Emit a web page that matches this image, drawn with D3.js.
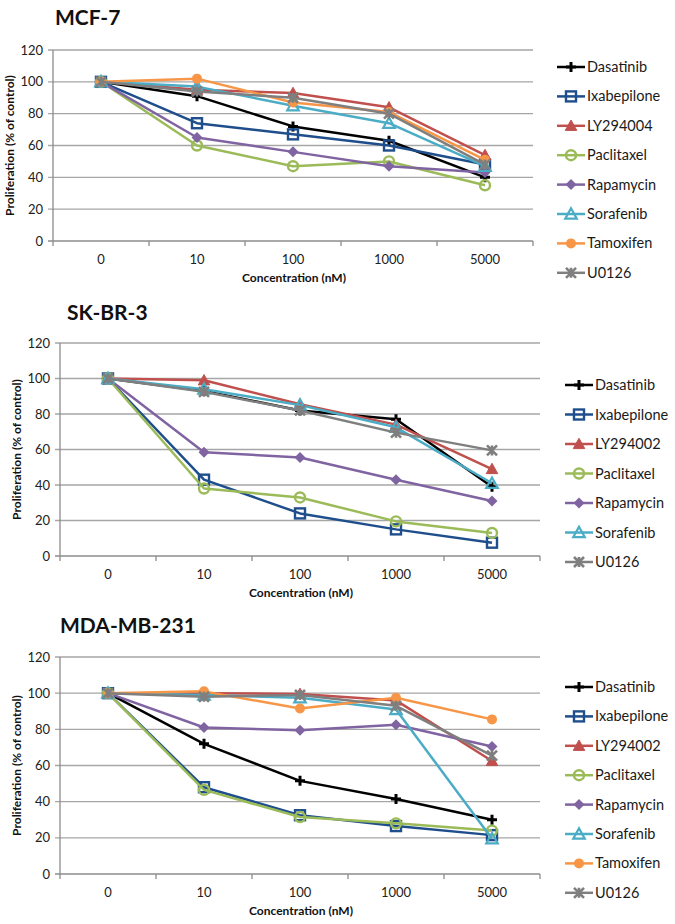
<!DOCTYPE html>
<html><head><meta charset="utf-8">
<script src="https://cdn.jsdelivr.net/npm/d3@7"></script>
<style>body{margin:0;background:#fff}svg{display:block}text{font-family:Lato,"Open Sans",sans-serif}</style>
</head><body>
<svg id="c" width="675" height="924"></svg>
<script>
const categories = ["0","10","100","1000","5000"];
const yTicks = [0,20,40,60,80,100,120];
const mcf7Drugs = ["Dasatinib","Ixabepilone","LY294004","Paclitaxel","Rapamycin","Sorafenib","Tamoxifen","U0126"];
const mcf7Values = [
  [100,91,72,63,40],
  [100,74,67,60,48],
  [100,95,93,84,54],
  [100,60,47,50,35],
  [100,65,56,47,43],
  [100,97,85,74,47],
  [100,102,87,81,51],
  [100,94,90,80,48]
];
const skbr3Drugs = ["Dasatinib","Ixabepilone","LY294002","Paclitaxel","Rapamycin","Sorafenib","U0126"];
const skbr3Values = [
  [100,93,82,77,39],
  [100,43,24,15,7.5],
  [100,99,85.5,74,49],
  [100,38,33,19.5,13],
  [100,58.5,55.5,43,31],
  [100,94,85,72.5,41],
  [100,92.5,82,69.5,59.5]
];
const mdaDrugs = ["Dasatinib","Ixabepilone","LY294002","Paclitaxel","Rapamycin","Sorafenib","Tamoxifen","U0126"];
const mdaValues = [
  [100,72,51.5,41.5,30],
  [100,48,32.5,26.5,21.5],
  [100,100,99.6,96,62.5],
  [100,46.5,31.5,28,24],
  [100,81,79.5,82.5,70.5],
  [100,99,97.5,91,19.5],
  [100,101,91.5,97.5,85.5],
  [100,98,99,93,65.5]
];

const styleByDrug = {
  "Dasatinib":{color:"#000000",marker:"plus"},
  "Ixabepilone":{color:"#1F4E8C",marker:"square"},
  "LY294004":{color:"#C0504D",marker:"triangleFilled"},
  "LY294002":{color:"#C0504D",marker:"triangleFilled"},
  "Paclitaxel":{color:"#9BBB59",marker:"circleOpen"},
  "Rapamycin":{color:"#8064A2",marker:"diamond"},
  "Sorafenib":{color:"#4BACC6",marker:"triangleOpen"},
  "Tamoxifen":{color:"#F79646",marker:"circleFilled"},
  "U0126":{color:"#7F7F7F",marker:"cross"}
};

const panels = [
  {title:"MCF-7", tx:55, ty:25, x0:53, x1:533, yTop:50, yBot:241, ytx:10, legX:557, legY:67, legStep:29.4, drugs:mcf7Drugs, values:mcf7Values},
  {title:"SK-BR-3", tx:67, ty:320, x0:60, x1:540, yTop:343, yBot:556, ytx:17, legX:565, legY:385, legStep:29.5, drugs:skbr3Drugs, values:skbr3Values},
  {title:"MDA-MB-231", tx:60, ty:633, x0:60, x1:540, yTop:657, yBot:874, ytx:17, legX:565, legY:687, legStep:29.4, drugs:mdaDrugs, values:mdaValues}
];

const svg = d3.select("#c");

function drawMarker(g, type, color, x, y) {
  const s = 5;
  if (type === "plus") {
    g.append("path").attr("d",`M${x-s},${y}H${x+s}M${x},${y-s}V${y+s}`).attr("stroke",color).attr("stroke-width",3).attr("fill","none");
  } else if (type === "square") {
    g.append("rect").attr("x",x-s).attr("y",y-s).attr("width",2*s).attr("height",2*s).attr("fill","none").attr("stroke",color).attr("stroke-width",2.4);
  } else if (type === "triangleFilled" || type === "triangleOpen") {
    const h = s*1.15;
    g.append("path").attr("d",`M${x},${y-h}L${x+h},${y+h*0.8}L${x-h},${y+h*0.8}Z`)
      .attr("fill", type==="triangleFilled"?color:"none").attr("stroke",color).attr("stroke-width",type==="triangleFilled"?1:2.2);
  } else if (type === "circleOpen") {
    g.append("circle").attr("cx",x).attr("cy",y).attr("r",s).attr("fill","none").attr("stroke",color).attr("stroke-width",2.4);
  } else if (type === "circleFilled") {
    g.append("circle").attr("cx",x).attr("cy",y).attr("r",s).attr("fill",color);
  } else if (type === "diamond") {
    g.append("path").attr("d",`M${x},${y-s*1.1}L${x+s*1.1},${y}L${x},${y+s*1.1}L${x-s*1.1},${y}Z`).attr("fill",color);
  } else if (type === "cross") {
    g.append("path").attr("d",`M${x-s},${y-s}L${x+s},${y+s}M${x-s},${y+s}L${x+s},${y-s}M${x},${y-s}V${y+s}`).attr("stroke",color).attr("stroke-width",2.6).attr("fill","none");
  }
}

panels.forEach(p => {
  const g = svg.append("g");
  const x = d3.scaleBand().domain(categories).range([p.x0, p.x1]);
  const y = d3.scaleLinear().domain([0,120]).range([p.yBot, p.yTop]);

  g.append("text").attr("x",p.tx).attr("y",p.ty).attr("font-size",21).attr("font-weight","bold").attr("fill","#111").text(p.title);

  g.append("g").selectAll("line").data(yTicks).join("line")
    .attr("x1",p.x0-5).attr("x2",p.x1).attr("y1",d=>y(d)).attr("y2",d=>y(d))
    .attr("stroke",d=>d===0?"#8c8c8c":"#a6a6a6").attr("stroke-width",1.3);
  g.append("line").attr("x1",p.x0).attr("x2",p.x0).attr("y1",p.yTop).attr("y2",p.yBot).attr("stroke","#8c8c8c").attr("stroke-width",1.3);
  g.append("g").selectAll("text").data(yTicks).join("text")
    .attr("x",p.x0-10).attr("y",d=>y(d)+4.5).attr("text-anchor","end").attr("font-size",13).attr("fill","#222").text(d=>d);
  const bounds = categories.map(c=>x(c)).concat([p.x1]);
  g.append("g").selectAll("line").data(bounds).join("line")
    .attr("x1",d=>d).attr("x2",d=>d).attr("y1",p.yBot).attr("y2",p.yBot+5).attr("stroke","#8c8c8c").attr("stroke-width",1.3);
  g.append("g").selectAll("text").data(categories).join("text")
    .attr("x",d=>x(d)+x.bandwidth()/2).attr("y",p.yBot+23).attr("text-anchor","middle").attr("font-size",13).attr("fill","#222").text(d=>d);
  g.append("text").attr("x",(p.x0+p.x1)/2 + 1).attr("y",p.yBot+41).attr("text-anchor","middle").attr("font-size",12).attr("font-weight","bold").attr("fill","#111").text("Concentration (nM)");
  g.append("text").attr("transform",`translate(${p.ytx+4},${(p.yTop+p.yBot)/2}) rotate(-90)`).attr("text-anchor","middle").attr("font-size",12).attr("font-weight","bold").attr("fill","#111").text("Proliferation (% of control)");

  const line = d3.line().x((d,i)=>x(categories[i])+x.bandwidth()/2).y(d=>y(d));
  p.drugs.forEach((drug, k) => {
    const st = styleByDrug[drug];
    const vals = p.values[k];
    g.append("path").attr("d", line(vals)).attr("fill","none").attr("stroke",st.color).attr("stroke-width",2.5).attr("stroke-linejoin","round");
    const mg = g.append("g");
    vals.forEach((v,i)=> drawMarker(mg, st.marker, st.color, x(categories[i])+x.bandwidth()/2, y(v)));
    const ly = p.legY + k*p.legStep;
    g.append("line").attr("x1",p.legX).attr("x2",p.legX+28).attr("y1",ly).attr("y2",ly).attr("stroke",st.color).attr("stroke-width",2.5);
    drawMarker(g, st.marker, st.color, p.legX+14, ly);
    g.append("text").attr("x",p.legX+30).attr("y",ly+5).attr("font-size",14.5).attr("fill","#1a1a1a").text(drug);
  });
});
</script>
</body></html>
